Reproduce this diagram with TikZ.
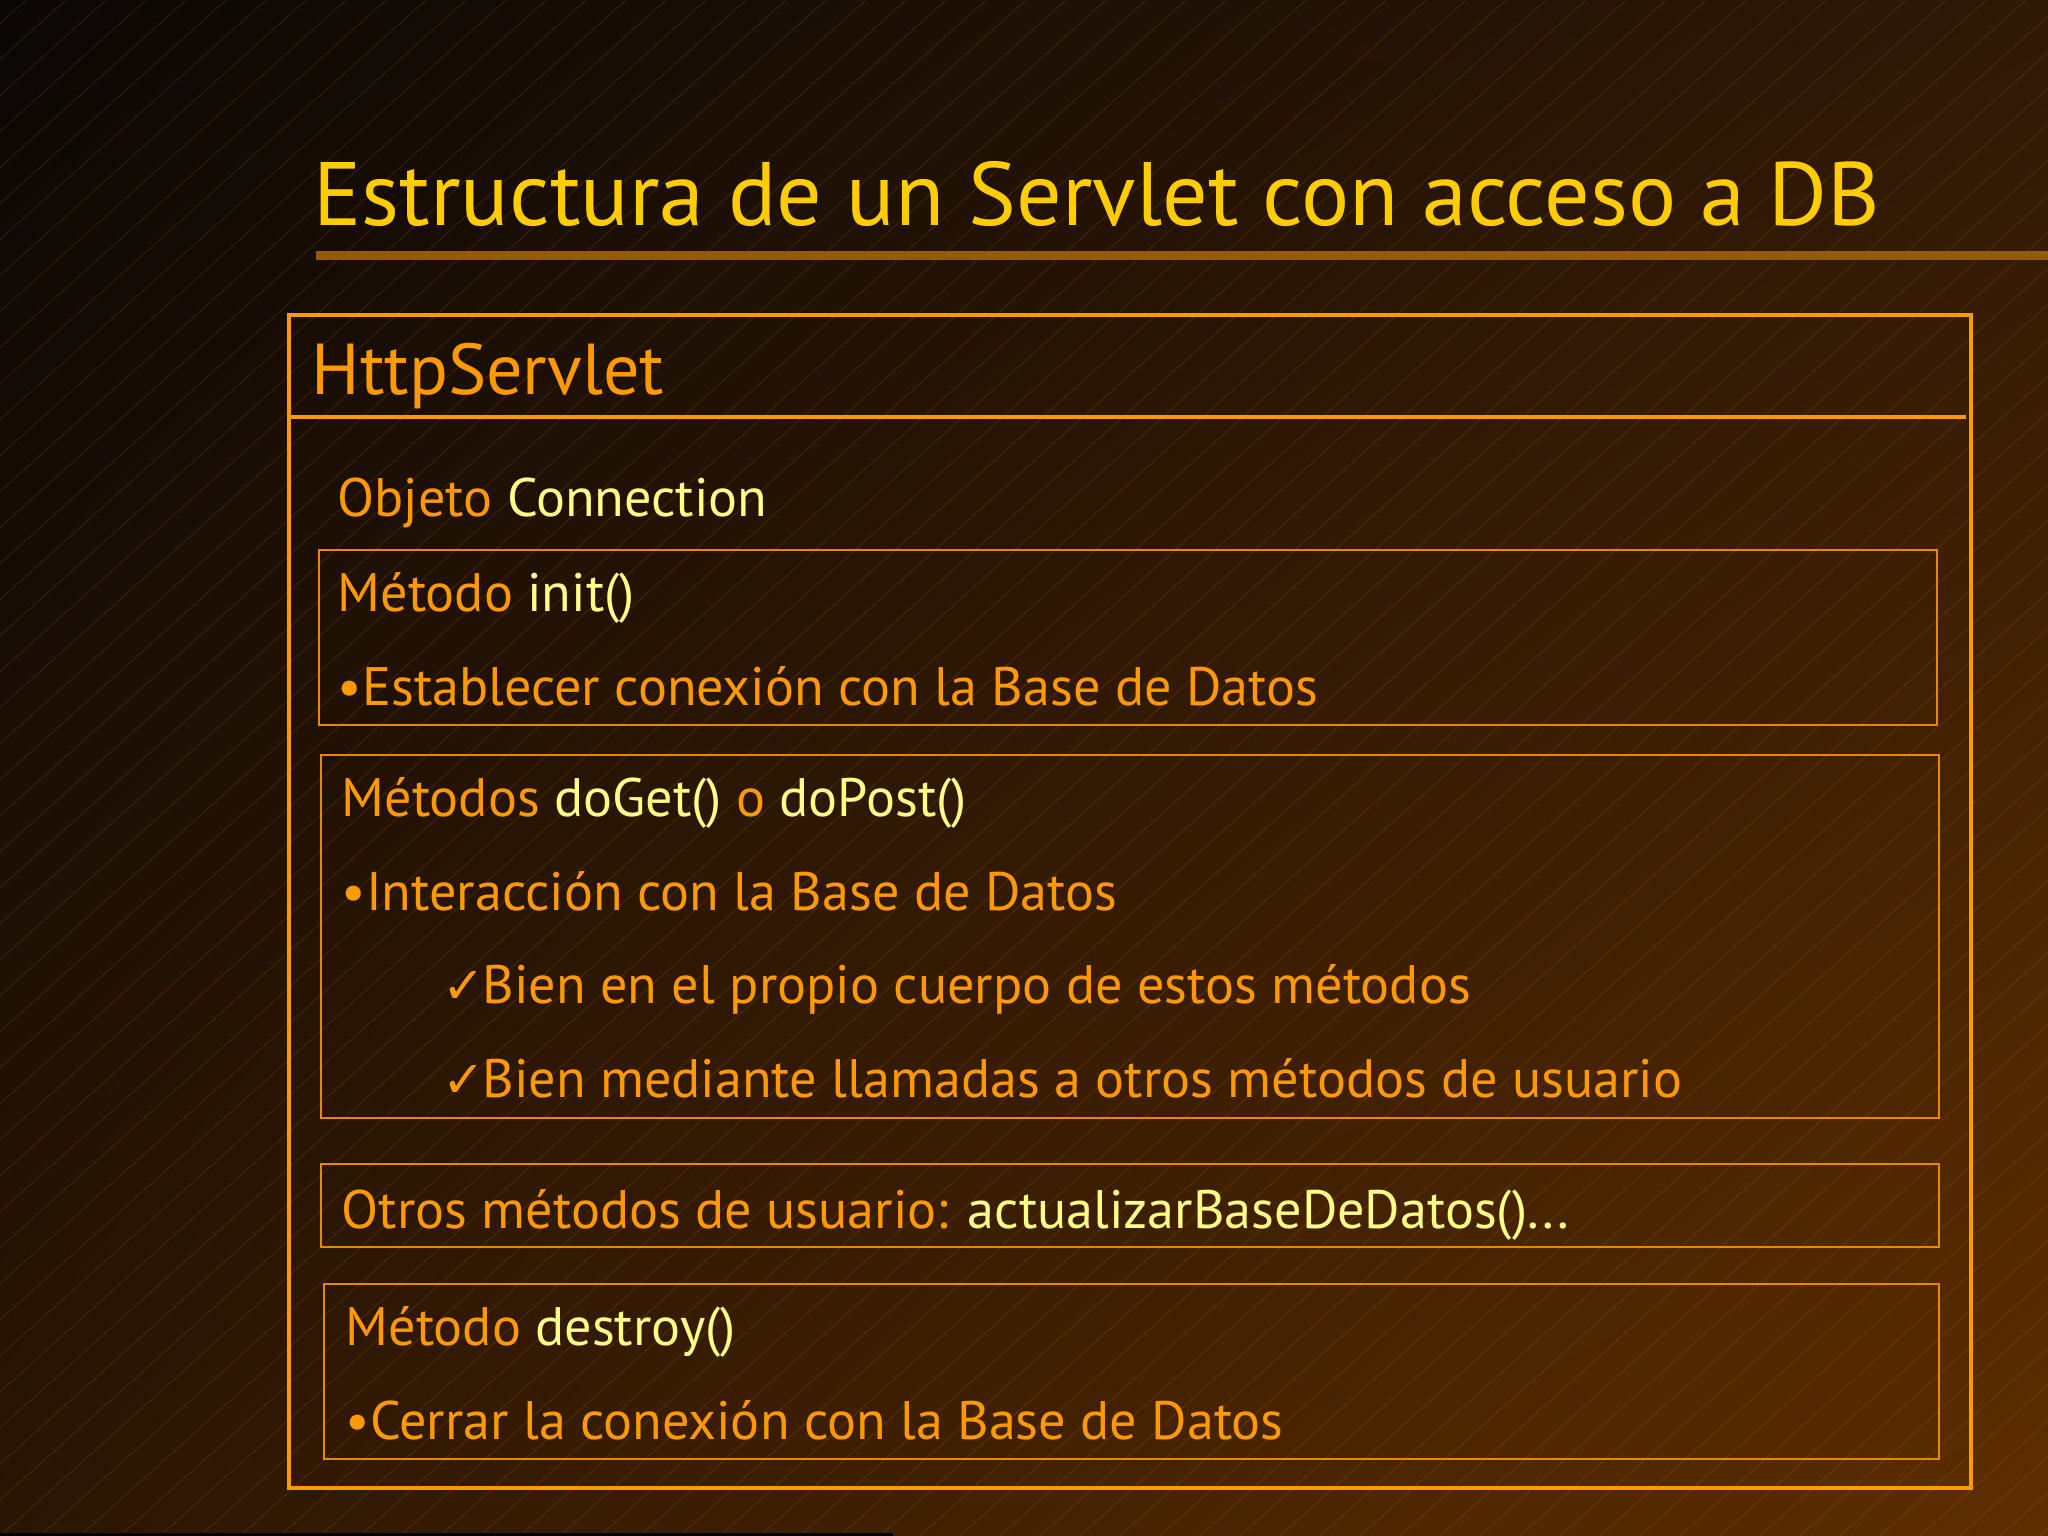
\documentclass[tikz,border=0pt]{standalone}
\usepackage{fontspec}
\setmainfont{PT Sans}
\newfontfamily\symfont{DejaVu Sans}
\usepackage{tikz}
\usetikzlibrary{shadings}
\definecolor{bgA}{HTML}{0B0705}
\definecolor{bgB}{HTML}{2E1806}
\definecolor{bgC}{HTML}{2A1504}
\definecolor{bgD}{HTML}{5E2E00}
\definecolor{gold}{HTML}{FFCC00}
\definecolor{orng}{HTML}{FF9900}
\definecolor{pale}{HTML}{FFFF88}
\definecolor{barc}{HTML}{945C00}
\tikzset{
  txt/.style={anchor=base west, inner sep=0pt, text=orng, font=\fontsize{15.4}{18}\selectfont},
  methbox/.style={draw=orng!90!black, line width=0.6pt}
}
\newcommand{\hl}[1]{\textcolor{pale}{#1}}
\newcommand{\chk}{{\symfont\fontsize{14.5}{16}\selectfont ✓}\kern-0.8pt}
\begin{document}
\begin{tikzpicture}[x=0.01cm,y=-0.01cm]
\useasboundingbox (0,0) rectangle (2048,1536);
\shade[upper left=bgA, upper right=bgB, lower left=bgC, lower right=bgD] (0,0) rectangle (2048,1536);
\begin{scope}
\clip (0,0) rectangle (2048,1536);
\foreach \c in {-1800,-1760,...,2048}
  \draw[orng, opacity=0.13, line width=0.3pt] (\c,1536) -- ++(1706,-1536);
\end{scope}
\fill[black] (0,1533) rectangle (893,1536);
% title
\node[txt, text=gold, font=\fontsize{25.6}{30}\selectfont] (title) at (313,225) {Estructura de un Servlet con acceso a DB};
\fill[barc] (316,251) rectangle (2048,260);
% outer class box
\draw[orng, line width=1.4pt] (289,315) rectangle (1971,1488);
\draw[orng, line width=1.4pt] (289,417) -- (1966,417);
\node[txt, font=\fontsize{20.5}{24}\selectfont] (cls) at (311,394) {HttpServlet};
\node[txt] (conn) at (337,516) {Objeto \hl{Connection}};
% init
\draw[methbox] (319,550) rectangle (1937,725);
\node[txt] (init) at (337,611) {Método \hl{init()}};
\node[txt] (initA) at (337,705) {•Establecer conexión con la Base de Datos};
% doGet / doPost
\draw[methbox] (321,755) rectangle (1939,1118);
\node[txt] (get) at (341,816) {Métodos \hl{doGet()} o \hl{doPost()}};
\node[txt] (getA) at (341,910) {•Interacción con la Base de Datos};
\node[txt] (getB) at (442,1003) {\chk Bien en el propio cuerpo de estos métodos};
\node[txt] (getC) at (442,1097) {\chk Bien mediante llamadas a otros métodos de usuario};
% otros
\draw[methbox] (321,1164) rectangle (1939,1247);
\node[txt] (otros) at (341,1228) {Otros métodos de usuario: \hl{actualizarBaseDeDatos()...}};
% destroy
\draw[methbox] (324,1284) rectangle (1939,1459);
\node[txt] (dest) at (345,1345) {Método \hl{destroy()}};
\node[txt] (destA) at (345,1439) {•Cerrar la conexión con la Base de Datos};
\end{tikzpicture}
\end{document}
